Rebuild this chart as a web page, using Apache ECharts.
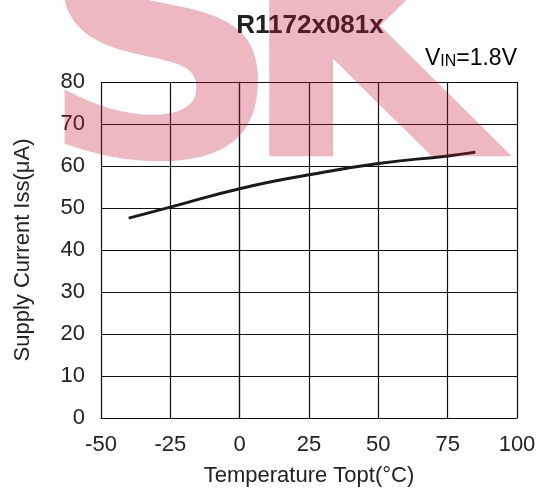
<!DOCTYPE html>
<html>
<head>
<meta charset="utf-8">
<script src="https://cdn.jsdelivr.net/npm/echarts@6/dist/echarts.min.js"></script>
<style>
  html, body { margin: 0; padding: 0; background: #fff; }
  #chart { width: 539px; height: 491px; }
</style>
</head>
<body>
<div id="chart"></div>
<script>
// data
const temps = [-40, -25, 0, 25, 50, 75, 85]
const supplyCurrent = [47.6, 50.2, 54.6, 57.9, 60.6, 62.4, 63.3]
const xTicks = [-50, -25, 0, 25, 50, 75, 100]
const yTicks = [0, 10, 20, 30, 40, 50, 60, 70, 80]

const font = '"Liberation Sans", Arial, sans-serif'
const markFont = 'bold 340px "DejaVu Sans", sans-serif'
const markColor = 'rgba(200, 20, 50, 0.3)'
const chart = echarts.init(document.getElementById('chart'))

const option = {
  animation: false,
  backgroundColor: '#fff',
  title: {
    text: 'R1172x081x',
    left: 305,
    top: 8,
    textAlign: 'center',
    textStyle: { fontFamily: font, fontSize: 26, fontWeight: 'bold', color: '#222' }
  },
  grid: { left: 101, right: 22, top: 82, bottom: 73, outerBoundsMode: 'none' },
  xAxis: {
    type: 'value',
    min: xTicks[0],
    max: xTicks[xTicks.length - 1],
    interval: 25,
    name: 'Temperature Topt(°C)',
    nameLocation: 'middle',
    nameGap: 47,
    nameTextStyle: { fontFamily: font, fontSize: 22, color: '#222' },
    axisLine: { show: true, lineStyle: { color: '#111', width: 1.2 } },
    axisTick: { show: false },
    axisLabel: { fontFamily: font, fontSize: 22, color: '#222', margin: 16 },
    splitLine: { show: true, lineStyle: { color: '#111', width: 1.2 } }
  },
  yAxis: {
    type: 'value',
    min: yTicks[0],
    max: yTicks[yTicks.length - 1],
    interval: 10,
    name: 'Supply Current Iss(μA)',
    nameLocation: 'middle',
    nameGap: 67,
    nameTextStyle: { fontFamily: font, fontSize: 22, color: '#222' },
    axisLine: { show: true, lineStyle: { color: '#111', width: 1.2 } },
    axisTick: { show: false },
    axisLabel: { fontFamily: font, fontSize: 22, color: '#222', margin: 16 },
    splitLine: { show: true, lineStyle: { color: '#111', width: 1.2 } }
  },
  graphic: [
    {
      // V_IN annotation, right aligned to the plot frame
      type: 'text',
      right: 22,
      top: 47,
      style: {
        text: '{a|V}{b|IN}{a|=1.8V}',
        rich: {
          a: { fontFamily: font, fontSize: 23, color: '#333', verticalAlign: 'bottom' },
          b: { fontFamily: font, fontSize: 16, color: '#333', verticalAlign: 'bottom' }
        }
      }
    },
    // watermark over the chart
    {
      type: 'text', silent: true, z: 100, x: 38, y: 68,
      style: { text: 'S', font: markFont, fill: markColor, verticalAlign: 'middle' }
    },
    {
      type: 'text', silent: true, z: 100, x: 238, y: 68,
      style: { text: 'KY', font: markFont, fill: markColor, verticalAlign: 'middle' }
    }
  ],
  series: [
    {
      type: 'line',
      data: temps.map((t, i) => [t, supplyCurrent[i]]),
      smooth: true,
      symbol: 'none',
      lineStyle: { color: '#1a1a1a', width: 3 }
    }
  ]
}

chart.setOption(option)
</script>
</body>
</html>
